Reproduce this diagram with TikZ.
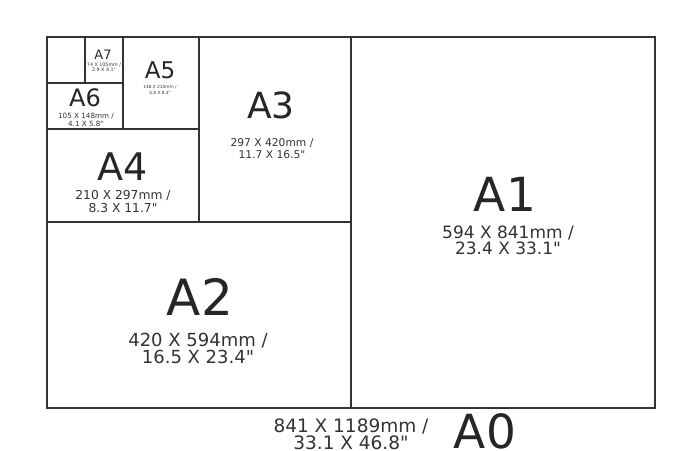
\documentclass[tikz,border=0pt]{standalone}
\usepackage{fontspec}
\setmainfont{DejaVu Sans}[Ligatures=TeXOff]
\usepackage{tikz}

\tikzset{
    sheet/.style={draw=black!80, line width=1.6pt},
    sizename/.style={inner sep=0pt, text=black!85},
    sizedims/.style={inner sep=0pt, align=center, text=black!80},
}
\newcommand{\fs}[2]{\fontsize{#1}{#2}\selectfont}

\begin{document}
\begin{tikzpicture}[x=1pt, y=-1pt]
    % Page frame
    \fill[white] (0,0) rectangle (700,450);
    \useasboundingbox (0,0) rectangle (700,450);
    \clip (0,0) rectangle (700,450);

    % Sheets A0 ... A7 (each one half of the one before)
    \foreach \xa/\ya/\xb/\yb in {47/37/655/408, 351/37/655/408, 47/222/351/408,
        199/37/351/222, 47/129/199/222, 123/37/199/129, 47/83/123/129, 85/37/123/83}{
        \draw[sheet] (\xa,\ya) rectangle (\xb,\yb);
    }

    % A1
    \node[sizename, font=\fs{47}{47}] (a1) at (505,194) {A1};
    \node[sizedims, font=\fs{17}{16}] (a1dims) at (508,240) {594 X 841mm /\\23.4 X 33.1"};

    % A2
    \node[sizename, font=\fs{50}{50}] (a2) at (200,297) {A2};
    \node[sizedims, font=\fs{18}{17}] (a2dims) at (198,348) {420 X 594mm /\\16.5 X 23.4"};

    % A3
    \node[sizename, font=\fs{36}{36}] (a3) at (271,105) {A3};
    \node[sizedims, font=\fs{10.7}{12}] (a3dims) at (272,149) {297 X 420mm /\\11.7 X 16.5"};

    % A4
    \node[sizename, font=\fs{38}{38}] (a4) at (123,167) {A4};
    \node[sizedims, font=\fs{12.3}{13}] (a4dims) at (123,202) {210 X 297mm /\\8.3 X 11.7"};

    % A5
    \node[sizename, font=\fs{23}{23}] (a5) at (160,70) {A5};
    \node[sizedims, font=\fs{4.3}{5.5}] (a5dims) at (160,90) {148 X 210mm /\\5.8 X 8.3"};

    % A6
    \node[sizename, font=\fs{24}{24}] (a6) at (85,98) {A6};
    \node[sizedims, font=\fs{7.2}{8}] (a6dims) at (86,120) {105 X 148mm /\\4.1 X 5.8"};

    % A7
    \node[sizename, font=\fs{13}{13}] (a7) at (103,55) {A7};
    \node[sizedims, font=\fs{4.8}{5.5}] (a7dims) at (104,67) {74 X 105mm /\\2.9 X 4.1"};

    % A0 (whole frame)
    \node[sizename, font=\fs{47}{47}] (a0) at (485,431) {A0};
    \node[sizedims, font=\fs{18.5}{17}] (a0dims) at (351,434) {841 X 1189mm /\\33.1 X 46.8"};
\end{tikzpicture}
\end{document}
